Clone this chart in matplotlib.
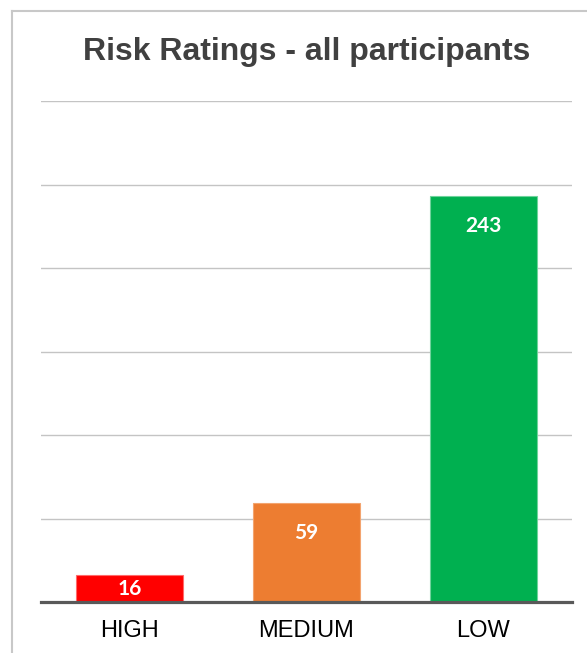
import matplotlib
matplotlib.use("Agg")
import matplotlib.pyplot as plt
from matplotlib.lines import Line2D

# risk counts per rating
categories = ["HIGH", "MEDIUM", "LOW"]
counts = [16, 59, 243]
bar_colors = ["#FF0000", "#ED7D31", "#00B050"]
edge_colors = ["#FF6B6B", "#F3A46F", "#6FD39C"]
grid_values = [50, 100, 150, 200, 250, 300]

fig = plt.figure(figsize=(5.87, 6.53), dpi=100)
ax = fig.add_axes([0.0698, 0.0781, 0.9046, 0.7672])

x = range(len(categories))
bars = ax.bar(x, counts, width=0.6, color=bar_colors, edgecolor=edge_colors,
              linewidth=0.8, zorder=3)

ax.set_xlim(-0.5, len(categories) - 0.5)
ax.set_ylim(0, 300)
ax.set_yticks(grid_values)
ax.yaxis.grid(True, color="#C4C4C4", linewidth=1.0, zorder=0)
ax.tick_params(axis="y", left=False, labelleft=False)
ax.set_xticks(list(x))
ax.set_xticklabels(categories, fontsize=17, family="Liberation Sans", color="black")
ax.tick_params(axis="x", length=0, pad=13)

for side in ("top", "right", "left"):
    ax.spines[side].set_visible(False)
ax.spines["bottom"].set_color("#595959")
ax.spines["bottom"].set_linewidth(2.3)
ax.spines["bottom"].set_zorder(4)

# value labels: inside end for tall bars, centred for short ones
for rect, val in zip(bars, counts):
    cx = rect.get_x() + rect.get_width() / 2
    if val > 40:
        ax.annotate(str(val), (cx, val), xytext=(0, -21.5), textcoords="offset points",
                    ha="center", va="center", color="white", fontsize=15,
                    fontweight="bold", family="Lato", zorder=5)
    else:
        ax.text(cx, val / 2, str(val), ha="center", va="center", color="white",
                fontsize=15, fontweight="bold", family="Lato", zorder=5)

fig.text(0.5222, 0.920, "Risk Ratings - all participants", ha="center", va="center",
         fontsize=23, fontweight="bold", family="Liberation Sans", color="#404040")

# chart frame
W, H = 587, 653
fig.add_artist(Line2D([12 / W, 12 / W], [0, 1 - 11 / H], color="#C8C8C8", linewidth=1.5,
                      transform=fig.transFigure))
fig.add_artist(Line2D([12 / W, 1], [1 - 11 / H, 1 - 11 / H], color="#C8C8C8", linewidth=1.5,
                      transform=fig.transFigure))

fig.savefig("out.png", dpi=100)
